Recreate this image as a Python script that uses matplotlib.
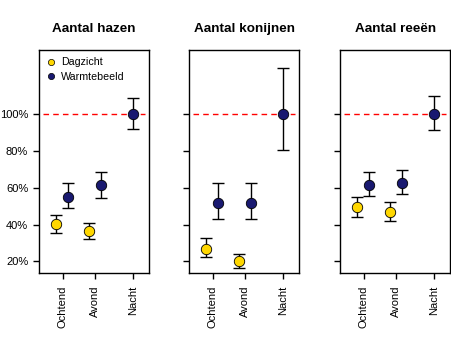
import matplotlib
matplotlib.use('Agg')
import matplotlib.pyplot as plt
import numpy as np

plt.rcParams['font.family'] = ['Liberation Sans', 'DejaVu Sans']

# %%
# data (percentages)
periods = ['Ochtend', 'Avond', 'Nacht']
titles = ['Aantal hazen', 'Aantal konijnen', 'Aantal reeën']

hazen_dag = [40.5, 36.7]
hazen_dag_lo = [35.3, 32.0]
hazen_dag_hi = [45.3, 40.8]
hazen_warm = [55.2, 61.6, 100]
hazen_warm_lo = [48.9, 54.3, 91.8]
hazen_warm_hi = [62.5, 68.8, 109.0]

konijnen_dag = [26.8, 20.4]
konijnen_dag_lo = [22.3, 16.3]
konijnen_dag_hi = [32.6, 23.9]
konijnen_warm = [52.0, 52.0, 100]
konijnen_warm_lo = [42.9, 42.9, 80.6]
konijnen_warm_hi = [62.5, 62.5, 125.0]

reeen_dag = [49.8, 46.9]
reeen_dag_lo = [44.2, 41.8]
reeen_dag_hi = [55.0, 52.2]
reeen_warm = [61.7, 62.8, 100]
reeen_warm_lo = [55.6, 56.5, 91.3]
reeen_warm_hi = [68.5, 69.6, 109.8]

panels = [
    (hazen_dag, hazen_dag_lo, hazen_dag_hi, hazen_warm, hazen_warm_lo, hazen_warm_hi),
    (konijnen_dag, konijnen_dag_lo, konijnen_dag_hi, konijnen_warm, konijnen_warm_lo, konijnen_warm_hi),
    (reeen_dag, reeen_dag_lo, reeen_dag_hi, reeen_warm, reeen_warm_lo, reeen_warm_hi),
]

# %%
fig = plt.figure(figsize=(4.52, 3.37), dpi=100)
lefts = [0.087, 0.419, 0.753]
tick_pos = np.array([1, 2, 3.17])

for i, (dag, dlo, dhi, warm, wlo, whi) in enumerate(panels):
    ax = fig.add_axes([lefts[i], 0.19, 0.243, 0.662])
    ax.axhline(100, xmin=0.035, xmax=0.965, color='red', ls=(0, (4, 3)), lw=1)

    xd = tick_pos[:2] - 0.2
    xw = tick_pos + np.array([0.17, 0.17, 0])
    dag = np.array(dag)
    warm = np.array(warm)
    ax.errorbar(xd, dag, yerr=[dag - np.array(dlo), np.array(dhi) - dag],
                fmt='none', ecolor='black', elinewidth=1, capsize=4, capthick=1)
    ax.errorbar(xw, warm, yerr=[warm - np.array(wlo), np.array(whi) - warm],
                fmt='none', ecolor='black', elinewidth=1, capsize=4, capthick=1)
    ax.plot(xd, dag, 'o', color='gold', mec='black', mew=0.6, ms=7.5, zorder=5)
    ax.plot(xw, warm, 'o', color='midnightblue', mec='black', mew=0.6, ms=7.5, zorder=5)

    ax.set_xlim(0.27, 3.68)
    ax.set_ylim(13.7, 135)
    ax.set_xticks(tick_pos)
    ax.set_xticklabels(periods, rotation=90, fontsize=8)
    ax.set_yticks([20, 40, 60, 80, 100])
    if i == 0:
        ax.set_yticklabels(['20%', '40%', '60%', '80%', '100%'], fontsize=8)
    else:
        ax.set_yticklabels([])
    ax.tick_params(length=4.5, width=1, pad=4.5)
    ax.tick_params(axis='y', pad=3.5)
    for s in ax.spines.values():
        s.set_linewidth(1)
    ax.set_title(titles[i], fontsize=9.7, fontweight='bold', pad=13)

    if i == 0:
        h1, = ax.plot([], [], 'o', color='gold', mec='black', mew=0.5, ms=4.5)
        h2, = ax.plot([], [], 'o', color='midnightblue', mec='black', mew=0.5, ms=4.5)
        ax.legend([h1, h2], ['Dagzicht', 'Warmtebeeld'], loc='upper left',
                  frameon=False, fontsize=7.7, handlelength=0.8, handletextpad=0.5,
                  borderaxespad=0.3, labelspacing=0.45)

fig.savefig('out.png', dpi=100)
